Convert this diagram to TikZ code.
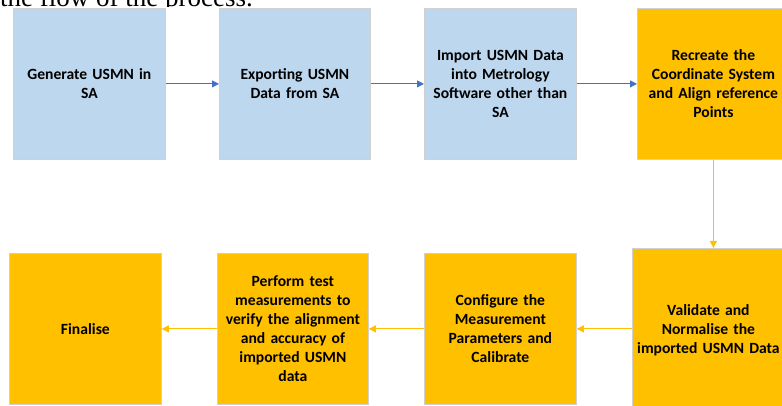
\documentclass[tikz,border=0pt]{standalone}
\usepackage{fontspec}
\setmainfont{Carlito}
\newfontfamily\serifdoc{Liberation Serif}
\usepackage{tikz}
\usetikzlibrary{arrows.meta}

\definecolor{boxblue}{HTML}{BDD7EE}
\definecolor{boxgold}{HTML}{FFC000}
\definecolor{lineblue}{HTML}{4472C4}
\definecolor{boxedge}{HTML}{D0D0D0}

\begin{document}
\begin{tikzpicture}[x=1pt,y=-1pt,
            stepbox/.style={draw=boxedge, line width=0.8pt, anchor=north west, minimum width=152pt, minimum height=151pt, text width=150pt, align=center, inner sep=0pt, font=\fontsize{15.6}{19}\selectfont\bfseries},
            bluebox/.style={stepbox, fill=boxblue},
            goldbox/.style={stepbox, fill=boxgold},
            flow/.style={-{Triangle[length=7pt,width=7pt]}, line width=1pt}]
            \clip (0,0) rectangle (782,406);
            \begin{scope}
                \clip (0,0) rectangle (300,7);
                \node[anchor=base west, inner sep=0pt, font=\serifdoc\fontsize{27}{30}\selectfont] (intro) at (0,7) {the flow of the process.};
            \end{scope}
            \node[bluebox] (gen) at (13,8) {Generate USMN in\\SA};
            \node[bluebox, minimum width=151pt] (exp) at (219,8) {Exporting USMN\\Data from SA};
            \node[bluebox] (imp) at (424,8) {Import USMN Data\\into Metrology\\Software other than\\SA};
            \node[goldbox] (rec) at (637,8) {Recreate the\\Coordinate System\\and Align reference\\Points};
            \node[goldbox, minimum height=164pt] (val) at (632,248) {Validate and\\Normalise the\\imported USMN Data};
            \node[goldbox] (cfg) at (424,253) {Configure the\\Measurement\\Parameters and\\Calibrate};
            \node[goldbox, minimum width=151pt] (test) at (217,253) {Perform test\\measurements to\\verify the alignment\\and accuracy of\\imported USMN\\data};
            \node[goldbox] (fin) at (9,253) {Finalise};
            \foreach \a/\b in {gen/exp,exp/imp,imp/rec}
                \draw[flow, lineblue] (\a) -- (\b);
            \draw[flow, boxgold] (rec.south) -- (rec.south |- val.north);
            \draw[flow, boxgold] (val.west |- cfg) -- (cfg.east);
            \foreach \a/\b in {cfg/test,test/fin}
                \draw[flow, boxgold] (\a) -- (\b);
        \end{tikzpicture}
\end{document}
